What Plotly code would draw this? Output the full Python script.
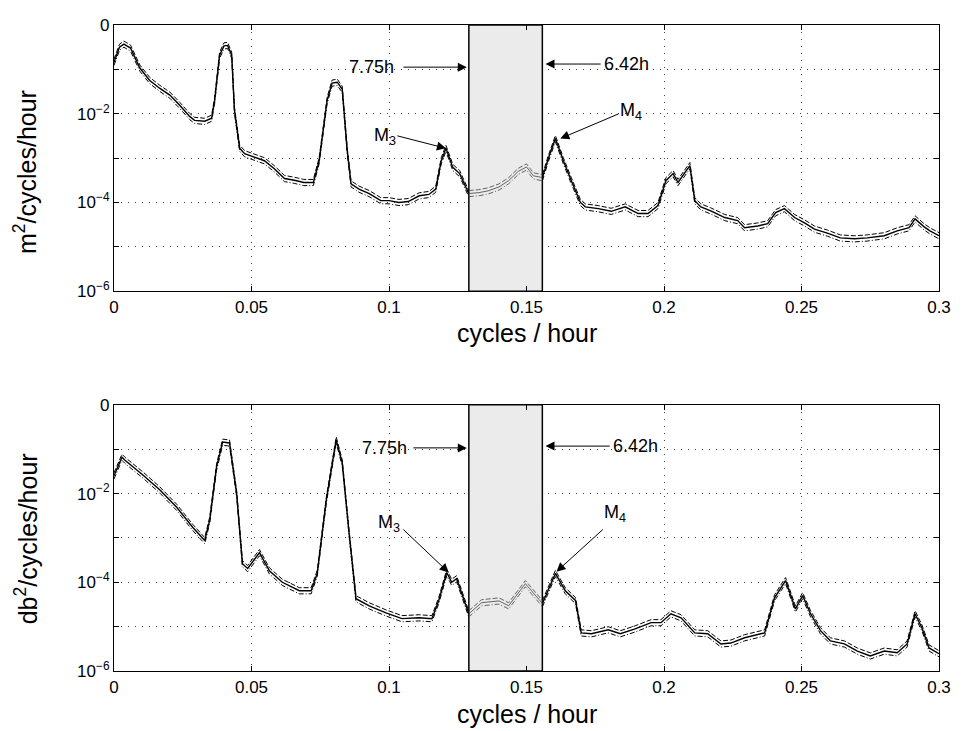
import numpy as np
import plotly.graph_objects as go

# ---------------- data ----------------
top_freq = [0.0, 0.002, 0.0036, 0.006, 0.0094, 0.013, 0.0167, 0.0203, 0.0239, 0.0275,
            0.0293, 0.033, 0.0355, 0.0366, 0.0384, 0.040, 0.0413, 0.0428, 0.0438, 0.0457,
            0.0475, 0.051, 0.0547, 0.0583, 0.062, 0.0656, 0.069, 0.0725, 0.0746, 0.0775,
            0.0793, 0.0812, 0.083, 0.0848, 0.0862, 0.0891, 0.0928, 0.097, 0.1, 0.1036,
            0.107, 0.111, 0.1145, 0.117, 0.119, 0.1207, 0.1217, 0.1232, 0.1257, 0.129,
            0.1326, 0.136, 0.140, 0.1435, 0.147, 0.150, 0.1525, 0.1558, 0.158, 0.1605,
            0.1634, 0.1663, 0.1696, 0.1714, 0.1761, 0.1808, 0.1859, 0.1906, 0.1942, 0.1978,
            0.2007, 0.2033, 0.2051, 0.2094, 0.2112, 0.2134, 0.217, 0.2221, 0.2268, 0.2293,
            0.2341, 0.2377, 0.2406, 0.2438, 0.2475, 0.2511, 0.2547, 0.2594, 0.2641, 0.2692,
            0.2739, 0.2801, 0.2848, 0.2891, 0.2913, 0.2946, 0.2967, 0.3]
top_log10_psd = [-0.84, -0.5, -0.43, -0.52, -0.97, -1.25, -1.43, -1.58, -1.81, -2.06,
                 -2.15, -2.17, -2.1, -1.7, -0.68, -0.47, -0.46, -0.68, -1.92, -2.78,
                 -2.9, -2.97, -3.06, -3.24, -3.46, -3.5, -3.55, -3.55, -3.06, -1.7,
                 -1.31, -1.29, -1.45, -2.83, -3.58, -3.7, -3.8, -3.96, -3.96, -4.0,
                 -3.98, -3.85, -3.82, -3.7, -3.06, -2.78, -2.95, -3.21, -3.35, -3.8,
                 -3.78, -3.74, -3.65, -3.51, -3.3, -3.2, -3.4, -3.44, -3.0, -2.56,
                 -3.06, -3.51, -4.0, -4.1, -4.14, -4.2, -4.1, -4.25, -4.25, -4.07,
                 -3.51, -3.35, -3.55, -3.17, -3.96, -4.1, -4.19, -4.34, -4.41, -4.57,
                 -4.53, -4.48, -4.23, -4.14, -4.34, -4.46, -4.6, -4.69, -4.8, -4.82,
                 -4.8, -4.75, -4.64, -4.57, -4.37, -4.55, -4.64, -4.75]

bot_freq = [0.0, 0.0029, 0.004, 0.0105, 0.0167, 0.0228, 0.0286, 0.033, 0.0348, 0.0373,
            0.0395, 0.042, 0.0446, 0.0467, 0.0486, 0.0529, 0.0565, 0.0612, 0.0674, 0.0717,
            0.0739, 0.0772, 0.0808, 0.083, 0.0855, 0.088, 0.0928, 0.0989, 0.1047, 0.1109,
            0.1156, 0.1181, 0.121, 0.1228, 0.1246, 0.129, 0.1337, 0.14, 0.1435, 0.1496,
            0.1518, 0.1558, 0.1605, 0.1641, 0.1678, 0.1699, 0.1736, 0.1797, 0.1841, 0.1895,
            0.1953, 0.1989, 0.2025, 0.2062, 0.2112, 0.2159, 0.2207, 0.2243, 0.2293, 0.2366,
            0.2402, 0.2442, 0.2478, 0.2504, 0.2533, 0.2569, 0.2605, 0.2656, 0.2703, 0.275,
            0.2801, 0.2848, 0.2884, 0.2913, 0.2938, 0.2964, 0.3]
bot_log10_psd = [-1.6, -1.18, -1.25, -1.58, -1.92, -2.31, -2.76, -3.06, -2.6, -1.4,
                 -0.84, -0.86, -2.0, -3.58, -3.69, -3.33, -3.74, -4.0, -4.19, -4.19,
                 -3.8, -2.15, -0.79, -1.31, -2.9, -4.37, -4.53, -4.69, -4.82, -4.8,
                 -4.82, -4.41, -3.78, -4.0, -3.92, -4.71, -4.46, -4.42, -4.53, -4.03,
                 -4.19, -4.48, -3.8, -4.19, -4.41, -5.14, -5.16, -5.07, -5.16, -5.05,
                 -4.91, -4.91, -4.71, -4.8, -5.14, -5.16, -5.39, -5.37, -5.25, -5.14,
                 -4.35, -3.96, -4.6, -4.3, -4.71, -5.09, -5.32, -5.39, -5.55, -5.66,
                 -5.55, -5.59, -5.39, -4.71, -5.03, -5.48, -5.61]

ci_upper_ratio = 1.17   # dashed upper confidence bound
ci_lower_ratio = 0.85   # dash-dot lower confidence bound

band_periods_h = [7.75, 6.42]
x_tick_vals = [0, 0.05, 0.1, 0.15, 0.2, 0.25, 0.3]
x_tick_text = ["0", "0.05", "0.1", "0.15", "0.2", "0.25", "0.3"]
y_tick_vals = [1, 1e-1, 1e-2, 1e-3, 1e-4, 1e-5, 1e-6]
y_tick_text = ["0", "", "10<sup>\u22122</sup>", "", "10<sup>\u22124</sup>", "", "10<sup>\u22126</sup>"]

FONT = "Liberation Sans, Arial, Helvetica, sans-serif"
band_lo = 1.0 / band_periods_h[0]
band_hi = 1.0 / band_periods_h[1]

fig = go.Figure()


def add_band(xa, ya):
    fig.add_trace(go.Scatter(x=[band_lo, band_hi, band_hi, band_lo, band_lo],
                             y=[1e-6, 1e-6, 1, 1, 1e-6], mode="lines", fill="toself",
                             fillcolor="#ebebeb", line=dict(color="black", width=1.5),
                             xaxis=xa, yaxis=ya, showlegend=False, hoverinfo="skip"))


def add_panel(freq, logpsd, xa, ya):
    f = np.array(freq)
    p = 10.0 ** np.array(logpsd)
    tol = 6e-4
    outside = (f <= band_lo + tol) | (f >= band_hi - tol)
    inside = (f >= band_lo - tol) & (f <= band_hi + tol)
    series = [
        (p * ci_upper_ratio, "5px,2px", 1.0),
        (p * ci_lower_ratio, "5px,2px,1px,2px", 1.0),
        (p, "solid", 1.4),
    ]
    for vals, dash, w in series:
        y_out = np.where(outside, vals, np.nan)
        y_in = np.where(inside, vals, np.nan)
        fig.add_trace(go.Scatter(x=f, y=y_out, mode="lines", xaxis=xa, yaxis=ya,
                                 line=dict(color="black", width=w, dash=dash),
                                 connectgaps=False, showlegend=False, hoverinfo="skip"))
        fig.add_trace(go.Scatter(x=f, y=y_in, mode="lines", xaxis=xa, yaxis=ya,
                                 line=dict(color="#404040", width=0.8, dash=dash),
                                 connectgaps=False, showlegend=False, hoverinfo="skip"))


add_band("x", "y")
add_band("x2", "y2")
add_panel(top_freq, top_log10_psd, "x", "y")
add_panel(bot_freq, bot_log10_psd, "x2", "y2")

axis_common = dict(showline=True, linecolor="black", linewidth=1.2, mirror="ticks",
                   ticks="inside", ticklen=5, tickcolor="black", tickwidth=1,
                   showgrid=True, gridcolor="#444444", gridwidth=1, griddash="1px,6px",
                   zeroline=False, tickfont=dict(family=FONT, size=17, color="black"))

xcommon = dict(axis_common, range=[0, 0.3], tickmode="array", tickvals=x_tick_vals,
               ticktext=x_tick_text)
ycommon = dict(axis_common, type="log", range=[-6, 0], tickmode="array",
               tickvals=y_tick_vals, ticktext=y_tick_text)

fig.update_layout(
    width=963, height=731,
    margin=dict(l=114, r=20, t=25, b=60),
    paper_bgcolor="white", plot_bgcolor="white",
    font=dict(family=FONT, color="black"),
    xaxis=dict(xcommon, anchor="y", domain=[0, 1]),
    yaxis=dict(ycommon, anchor="x", domain=[0.588, 1]),
    xaxis2=dict(xcommon, anchor="y2", domain=[0, 1]),
    yaxis2=dict(ycommon, anchor="x2", domain=[0, 0.412]),
)

# axis titles
titles = [
    dict(text="cycles / hour", x=0.5, y=0.5225, textangle=0),
    dict(text="cycles / hour", x=0.5, y=-0.0667, textangle=0),
    dict(text="m<sup>2</sup>/cycles/hour", x=-0.107, y=0.772, textangle=-90),
    dict(text="db<sup>2</sup>/cycles/hour", x=-0.107, y=0.205, textangle=-90),
]
for t in titles:
    fig.add_annotation(xref="paper", yref="paper", showarrow=False, xanchor="center",
                       yanchor="middle", font=dict(family=FONT, size=25, color="black"), **t)

# annotation labels: (text, x, log10 y, axis)
labels = [
    ("7.75h", 0.0938, -0.95, "x", "y"),
    ("6.42h", 0.1862, -0.88, "x", "y"),
    ("M<sub>3</sub>", 0.0986, -2.51, "x", "y"),
    ("M<sub>4</sub>", 0.188, -1.95, "x", "y"),
    ("7.75h", 0.0982, -0.97, "x2", "y2"),
    ("6.42h", 0.1895, -0.93, "x2", "y2"),
    ("M<sub>3</sub>", 0.1, -2.67, "x2", "y2"),
    ("M<sub>4</sub>", 0.1822, -2.45, "x2", "y2"),
]
for text, x, y, xr, yr in labels:
    fig.add_annotation(xref=xr, yref=yr, x=x, y=y, text=text, showarrow=False,
                       font=dict(family=FONT, size=18, color="black"))

# arrows: (tail x, tail log y, head x, head log y, axis)
arrows = [
    (0.1047, -0.95, 0.1283, -0.95, "x", "y"),
    (0.1775, -0.88, 0.1569, -0.88, "x", "y"),
    (0.1025, -2.49, 0.1207, -2.78, "x", "y"),
    (0.184, -1.99, 0.1623, -2.56, "x", "y"),
    (0.1083, -0.97, 0.1283, -0.97, "x2", "y2"),
    (0.1808, -0.93, 0.1569, -0.93, "x2", "y2"),
    (0.1047, -2.78, 0.1217, -3.78, "x2", "y2"),
    (0.1783, -2.78, 0.1609, -3.76, "x2", "y2"),
]
for tx, ty, hx, hy, xr, yr in arrows:
    fig.add_annotation(xref=xr, yref=yr, axref=xr, ayref=yr, x=hx, y=hy, ax=tx, ay=ty,
                       text="", showarrow=True, arrowhead=2, arrowsize=1.8,
                       arrowwidth=1, arrowcolor="black")

fig.write_html("out.html")
